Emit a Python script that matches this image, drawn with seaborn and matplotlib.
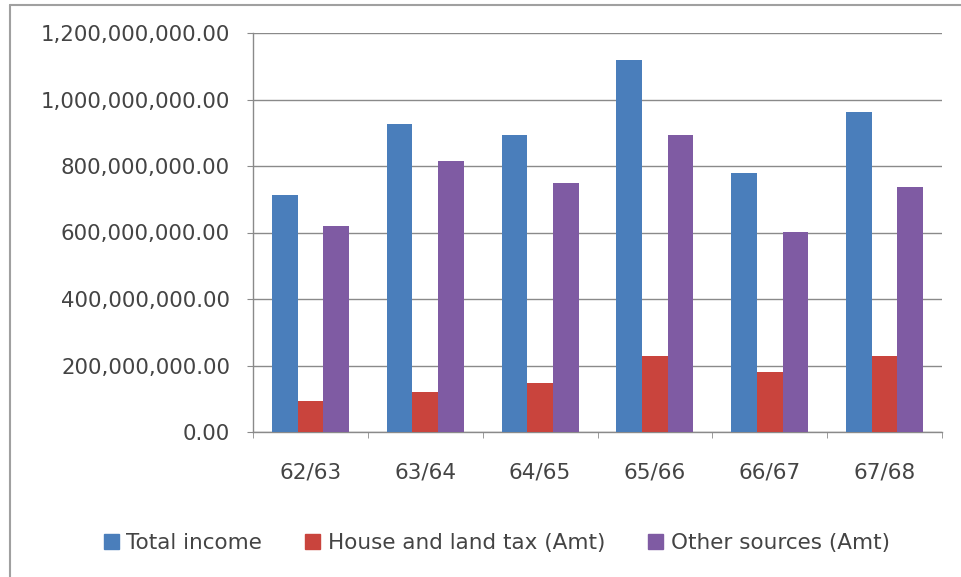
import matplotlib
matplotlib.use("Agg")
import matplotlib.pyplot as plt
import matplotlib.ticker as mticker
from matplotlib.lines import Line2D
import seaborn as sns
import pandas as pd
import numpy as np

years = ["62/63", "63/64", "64/65", "65/66", "66/67", "67/68"]
total_income = [714e6, 927e6, 892e6, 1120e6, 779e6, 962e6]
house_land_tax = [94e6, 119e6, 146e6, 230e6, 181e6, 228e6]
other_sources = [621e6, 815e6, 750e6, 892e6, 601e6, 737e6]
series_names = ["Total income", "House and land tax (Amt)", "Other sources (Amt)"]
colors = ["#4a7ebb", "#c9443d", "#7f5ba3"]

df = pd.DataFrame({
    "year": years * 3,
    "value": total_income + house_land_tax + other_sources,
    "series": [series_names[0]] * 6 + [series_names[1]] * 6 + [series_names[2]] * 6,
})

sns.set_style("white")
plt.rcParams["font.family"] = ["DejaVu Sans"]
text_color = "#444444"

fig = plt.figure(figsize=(9.61, 5.77), dpi=100)
ax = fig.add_axes([253 / 961, 1 - 432 / 577, 689 / 961, 399 / 577])

sns.barplot(data=df, x="year", y="value", hue="series", order=years,
            hue_order=series_names, palette=colors, width=0.67, gap=0,
            saturation=1, ax=ax, legend=False, zorder=3, linewidth=0,
            edgecolor="none")

ax.set_ylim(0, 1.2e9)
ax.set_xlim(-0.5, 5.5)
ax.yaxis.set_major_locator(mticker.MultipleLocator(2e8))
ax.yaxis.set_major_formatter(mticker.FuncFormatter(lambda v, p: f"{v:,.2f}"))
ax.grid(axis="y", color="#8a8a8a", linewidth=1.0, zorder=0)
ax.set_axisbelow(True)
ax.set_xlabel("")
ax.set_ylabel("")

for s in ["top", "right"]:
    ax.spines[s].set_visible(False)
for s in ["left", "bottom"]:
    ax.spines[s].set_color("#8a8a8a")
    ax.spines[s].set_linewidth(1.0)

ax.tick_params(axis="y", which="major", length=4.5, color="#8a8a8a", pad=12,
               labelsize=15.3, labelcolor=text_color, left=True)
ax.tick_params(axis="x", which="major", length=0, pad=22, labelsize=15.5,
               labelcolor=text_color, bottom=True)
ax.set_xticks(np.arange(-0.5, 6, 1.0), minor=True)
ax.tick_params(axis="x", which="minor", length=4.5, color="#8a8a8a", bottom=True)

handles = [plt.Rectangle((0, 0), 1, 1, color=c) for c in colors]
fig.legend(handles, series_names, loc="center", bbox_to_anchor=(0.517, 1 - 543 / 577),
           ncol=3, frameon=False, fontsize=15.5, labelcolor=text_color,
           handlelength=0.7, handleheight=0.7, handletextpad=0.35, columnspacing=2.0)

# outer frame (top and left edges)
fig.add_artist(Line2D([10 / 961, 1], [1 - 5 / 577, 1 - 5 / 577], color="#a0a0a0", lw=1.5,
                      transform=fig.transFigure))
fig.add_artist(Line2D([10 / 961, 10 / 961], [0, 1 - 5 / 577], color="#a0a0a0", lw=1.5,
                      transform=fig.transFigure))

fig.savefig("out.png", dpi=100)
